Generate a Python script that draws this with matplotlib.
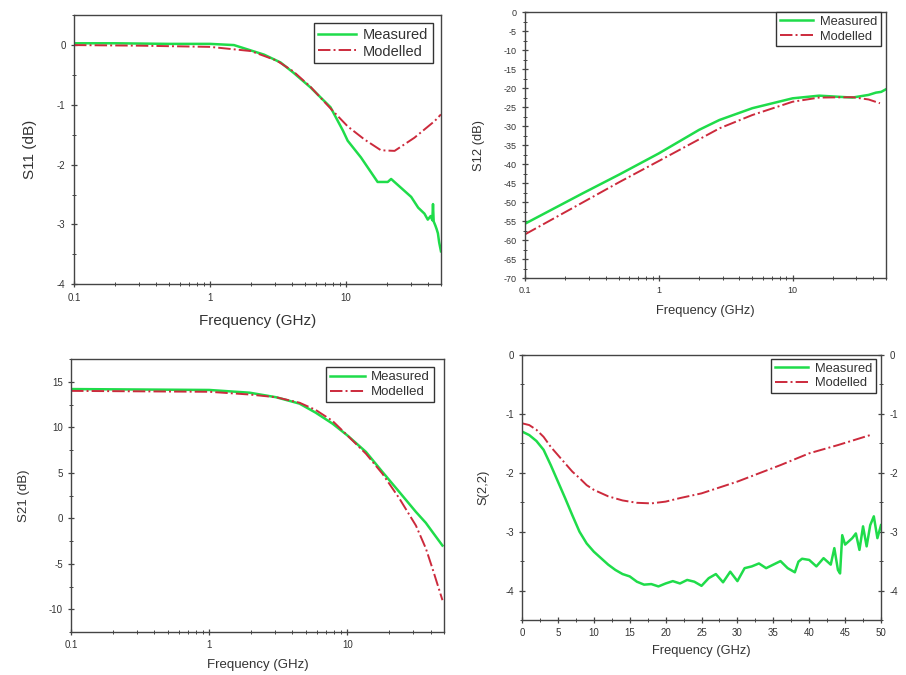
import numpy as np
import matplotlib
matplotlib.use("Agg")
import matplotlib.pyplot as plt
from matplotlib.ticker import FixedLocator, LogLocator, MultipleLocator, NullFormatter, FuncFormatter

plt.rcParams['font.family'] = ['Liberation Sans', 'DejaVu Sans']
plt.rcParams['axes.unicode_minus'] = False

# S11 (log frequency axis)
s11_f_meas = [0.1, 0.2, 0.5, 1, 1.5, 2, 2.5, 3.3, 4.1, 5.5, 7.7, 9.5, 10.3, 12.9, 17.1, 20.3, 21.5,
              30.2, 34, 37.8, 40, 42, 43.2, 43.7, 44.2, 45.5, 46.5, 47.5, 48.5, 50]
s11_meas = [0.03, 0.03, 0.02, 0.02, 0.0, -0.09, -0.16, -0.29, -0.46, -0.71, -1.04, -1.43, -1.6, -1.88, -2.29, -2.29, -2.24,
            -2.54, -2.72, -2.82, -2.92, -2.86, -2.93, -2.66, -2.95, -3.02, -3.08, -3.15, -3.3, -3.45]
s11_f_mod = [0.1, 0.3, 1, 2, 3.1, 4.1, 5.5, 7.7, 10.3, 13.7, 18.1, 22.8, 31.9, 45, 50]
s11_mod = [0.0, -0.01, -0.03, -0.1, -0.26, -0.44, -0.70, -1.06, -1.36, -1.58, -1.76, -1.77, -1.55, -1.27, -1.16]

# S12
s12_f_meas = [0.1, 0.27, 0.51, 1, 2, 2.84, 5.0, 10, 15.8, 28, 37, 42, 46, 50]
s12_meas = [-55.7, -47.7, -42.7, -37.2, -31.0, -28.4, -25.3, -22.7, -22.0, -22.5, -21.8, -21.2, -21.0, -20.3]
s12_f_mod = [0.1, 0.27, 0.51, 1, 2, 2.84, 5.0, 10, 15.8, 28, 37, 45]
s12_mod = [-58.5, -50.1, -44.7, -39.2, -33.5, -30.6, -27.1, -23.6, -22.5, -22.4, -23.0, -24.0]

# S21
s21_f = [0.1, 1, 1.96, 3.05, 4.5, 5.9, 7.8, 10, 13.6, 17.9, 23.7, 31.3, 36.9, 41.2, 48.7]
s21_meas = [14.2, 14.1, 13.8, 13.3, 12.6, 11.6, 10.4, 9.1, 7.3, 5.1, 2.9, 0.7, -0.5, -1.5, -3.0]
s21_mod = [14.0, 13.9, 13.6, 13.3, 12.7, 11.9, 10.7, 9.1, 7.1, 4.9, 2.2, -0.8, -3.3, -5.5, -9.0]

# S(2,2) (linear frequency axis)
s22_f_meas = [0, 1, 2, 3, 4, 5, 6, 7, 8, 9, 10, 11, 12, 13, 14, 15, 16, 17, 18, 19, 20, 21, 22, 23, 24, 25,
              26, 27, 28, 29, 30, 31, 32, 33, 34, 35, 36, 37, 38, 38.5, 39, 40, 41, 42, 43, 43.5, 44, 44.3,
              44.6, 45, 46, 46.5, 47, 47.5, 48, 48.5, 49, 49.5, 50]
s22_meas = [-1.30, -1.36, -1.46, -1.61, -1.87, -2.15, -2.43, -2.72, -3.0, -3.2, -3.34, -3.45, -3.56, -3.65,
            -3.72, -3.76, -3.85, -3.90, -3.89, -3.93, -3.88, -3.84, -3.88, -3.82, -3.85, -3.92, -3.79, -3.72,
            -3.86, -3.68, -3.84, -3.62, -3.59, -3.54, -3.62, -3.56, -3.50, -3.62, -3.69, -3.51, -3.46, -3.48,
            -3.59, -3.45, -3.56, -3.28, -3.65, -3.71, -3.06, -3.22, -3.11, -3.03, -3.31, -2.91, -3.25, -2.89,
            -2.74, -3.11, -2.89]
s22_f_mod = [0, 1, 2, 3, 4, 5, 6, 7, 8, 9, 10, 12, 14, 16, 18, 20, 22, 25, 28, 30, 33, 36, 40, 44, 48.5]
s22_mod = [-1.16, -1.19, -1.27, -1.39, -1.56, -1.70, -1.84, -1.98, -2.09, -2.21, -2.29, -2.40, -2.47, -2.51,
           -2.52, -2.49, -2.43, -2.35, -2.23, -2.15, -2.01, -1.87, -1.67, -1.53, -1.36]

green = '#1fdc4a'
red = '#cc2a3c'
axc = '#444444'
txc = '#333333'

fig = plt.figure(figsize=(9.06, 6.75), dpi=100)


def style(ax, tick_fs):
    for sp in ax.spines.values():
        sp.set_color(axc)
        sp.set_linewidth(1.0)
    ax.tick_params(which='major', direction='inout', length=5, width=0.9, color=axc,
                   labelsize=tick_fs, labelcolor=txc, top=False, right=False)
    ax.tick_params(which='minor', direction='inout', length=3, width=0.7, color=axc,
                   top=False, right=False)


def log_x(ax):
    ax.set_xscale('log')
    ax.set_xlim(0.1, 50)
    ax.xaxis.set_major_locator(FixedLocator([0.1, 1, 10]))
    ax.xaxis.set_major_formatter(FuncFormatter(lambda v, p: '%g' % v))
    ax.xaxis.set_minor_locator(LogLocator(base=10, subs=np.arange(2, 10)))
    ax.xaxis.set_minor_formatter(NullFormatter())


def legend(ax, fs, anchor):
    leg = ax.legend(loc='upper right', bbox_to_anchor=anchor, fontsize=fs, fancybox=False,
                    edgecolor='#333333', framealpha=1, borderaxespad=0, handlelength=2.6,
                    borderpad=0.3, labelspacing=0.2, handletextpad=0.5)
    leg.get_frame().set_linewidth(1.0)
    for t in leg.get_texts():
        t.set_color(txc)


# --- S11
ax1 = fig.add_axes([0.0817, 0.579, 0.405, 0.3985])
ax1.plot(s11_f_meas, s11_meas, color=green, lw=1.8, label='Measured')
ax1.plot(s11_f_mod, s11_mod, color=red, lw=1.4, ls='-.', label='Modelled')
log_x(ax1)
ax1.set_ylim(-4, 0.5)
ax1.yaxis.set_major_locator(MultipleLocator(1))
ax1.yaxis.set_minor_locator(MultipleLocator(0.5))
style(ax1, 7)
ax1.set_xlabel('Frequency (GHz)', fontsize=11, color=txc)
ax1.set_ylabel('S11 (dB)', fontsize=11, color=txc)
ax1.xaxis.set_label_coords(0.5, -0.11)
ax1.yaxis.set_label_coords(-0.1, 0.5)
legend(ax1, 10.5, (0.978, 0.97))

# --- S12
ax2 = fig.add_axes([0.5795, 0.5881, 0.3985, 0.394])
ax2.plot(s12_f_meas, s12_meas, color=green, lw=1.8, label='Measured')
ax2.plot(s12_f_mod, s12_mod, color=red, lw=1.4, ls='-.', label='Modelled')
log_x(ax2)
ax2.set_ylim(-70, 0)
ax2.yaxis.set_major_locator(MultipleLocator(5))
ax2.yaxis.set_minor_locator(MultipleLocator(2.5))
style(ax2, 6.5)
ax2.set_xlabel('Frequency (GHz)', fontsize=9.3, color=txc)
ax2.set_ylabel('S12 (dB)', fontsize=9.3, color=txc)
ax2.xaxis.set_label_coords(0.5, -0.1)
ax2.yaxis.set_label_coords(-0.11, 0.5)
legend(ax2, 9.3, (0.986, 1.0))

# --- S21
ax3 = fig.add_axes([0.0784, 0.0637, 0.4117, 0.4044])
ax3.plot(s21_f, s21_meas, color=green, lw=1.8, label='Measured')
ax3.plot(s21_f, s21_mod, color=red, lw=1.4, ls='-.', label='Modelled')
log_x(ax3)
ax3.set_ylim(-12.5, 17.5)
ax3.yaxis.set_major_locator(MultipleLocator(5))
ax3.yaxis.set_minor_locator(MultipleLocator(2.5))
style(ax3, 7)
ax3.set_xlabel('Frequency (GHz)', fontsize=9.5, color=txc)
ax3.set_ylabel('S21 (dB)', fontsize=9.5, color=txc)
ax3.xaxis.set_label_coords(0.5, -0.1)
ax3.yaxis.set_label_coords(-0.11, 0.5)
legend(ax3, 9.5, (0.973, 0.97))

# --- S(2,2)
ax4 = fig.add_axes([0.5762, 0.0815, 0.3962, 0.3926])
ax4.plot(s22_f_meas, s22_meas, color=green, lw=1.8, label='Measured')
ax4.plot(s22_f_mod, s22_mod, color=red, lw=1.4, ls='-.', label='Modelled')
ax4.set_xlim(0, 50)
ax4.set_ylim(-4.5, 0)
ax4.xaxis.set_major_locator(MultipleLocator(5))
ax4.xaxis.set_minor_locator(MultipleLocator(2.5))
ax4.yaxis.set_major_locator(MultipleLocator(1))
ax4.yaxis.set_minor_locator(MultipleLocator(0.5))
style(ax4, 7)
ax4.tick_params(which='both', right=True, labelright=True)
ax4.set_xlabel('Frequency (GHz)', fontsize=9.3, color=txc)
ax4.set_ylabel('S(2,2)', fontsize=9.3, color=txc)
ax4.xaxis.set_label_coords(0.5, -0.095)
ax4.yaxis.set_label_coords(-0.09, 0.5)
legend(ax4, 9.3, (0.986, 0.985))

fig.savefig('out.png', dpi=100)
